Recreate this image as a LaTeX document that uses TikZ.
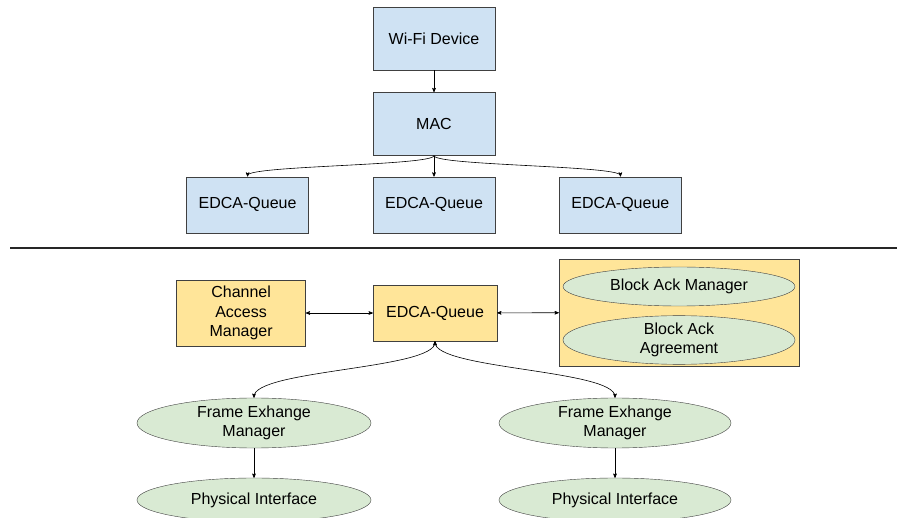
\documentclass[tikz,border=0pt]{standalone}
\usepackage{fontspec}
\setmainfont{Liberation Sans}
\usetikzlibrary{arrows,positioning,calc,shapes.geometric}
\definecolor{wifiblue}{HTML}{CFE2F3}
\definecolor{queueyellow}{HTML}{FFE599}
\definecolor{mgrgreen}{HTML}{D9EAD3}
\begin{document}
\begin{tikzpicture}[x=1pt,y=-1pt,>=stealth',semithick,node distance=22pt,every node/.style={font=\fontsize{16}{19.5}\selectfont,align=center}]
\tikzstyle{bluebox}=[rectangle,draw=black!75,fill=wifiblue,minimum width=122pt,minimum height=63pt,thin]
  \tikzstyle{yellowbox}=[rectangle,draw=black!75,fill=queueyellow,minimum width=124pt,minimum height=56pt,thin]
  \tikzstyle{greenoval}=[ellipse,draw=black!75,fill=mgrgreen,minimum width=233pt,minimum height=44pt,inner sep=0pt,thin]
\useasboundingbox (0,0) rectangle (897,518);
%
% upper part: device, MAC and its queues
\node[bluebox] (wifi) at (434,38.5) {Wi-Fi Device};
  \node[bluebox] (mac) [below=22pt of wifi] {MAC};
  \node[bluebox,minimum height=56pt] (q1) [below=21pt of mac] {EDCA-Queue};
  \node[bluebox,minimum height=56pt] (q0) [left=64pt of q1] {EDCA-Queue};
  \node[bluebox,minimum height=56pt] (q2) [right=64pt of q1] {EDCA-Queue};
%
\coordinate (sepL) at (10,248);
  \coordinate (sepR) at (897,248);
  \draw[line width=1.6pt,black!85] (sepL) -- (sepR);
%
% lower part: one queue in detail
\node[yellowbox] (edca) at (435,313) {EDCA-Queue};
  \node[yellowbox,minimum width=129pt,minimum height=66pt] (cam) [left=67pt of edca] {Channel\\Access\\Manager};
  \node[rectangle,draw=black!75,fill=queueyellow,minimum width=240pt,minimum height=107pt,thin] (bagroup) at (679,312.5) {};
  \node[greenoval,minimum width=232pt,minimum height=39pt] (bam) at (679,286.5) {Block Ack Manager};
  \node[greenoval,minimum width=232pt] (baa) at (679,340) {Block Ack\\Agreement};
  \node[greenoval,minimum width=234pt,minimum height=50pt] (fem0) at (254,423) {Frame Exhange\\Manager};
  \node[greenoval,minimum width=232pt,minimum height=50pt] (fem1) at (615,423) {Frame Exhange\\Manager};
  \node[greenoval,minimum width=234pt] (pi0) at (254,500) {Physical Interface};
  \node[greenoval,minimum width=232pt] (pi1) at (615,500) {Physical Interface};

  \draw[->] (wifi) -- (mac);
  \draw[->] (mac.south) -- (q1);
  \draw[->] (mac.south) .. controls ($(mac.south)+(0,10)$) and ($(q0.north)+(0,-11)$) .. (q0.north);
  \draw[->] (mac.south) .. controls ($(mac.south)+(0,10)$) and ($(q2.north)+(0,-11)$) .. (q2.north);
  \draw[<->] (cam) -- (edca);
  \draw[<->] (edca) -- (bagroup);
  \draw[<->] (edca.south) .. controls ($(edca.south)+(0,28)$) and ($(fem0.north)+(0,-28)$) .. (fem0.north);
  \draw[<->] (edca.south) .. controls ($(edca.south)+(0,28)$) and ($(fem1.north)+(0,-28)$) .. (fem1.north);
  \draw[->] (fem0) -- (pi0);
  \draw[->] (fem1) -- (pi1);
\end{tikzpicture}
\end{document}
